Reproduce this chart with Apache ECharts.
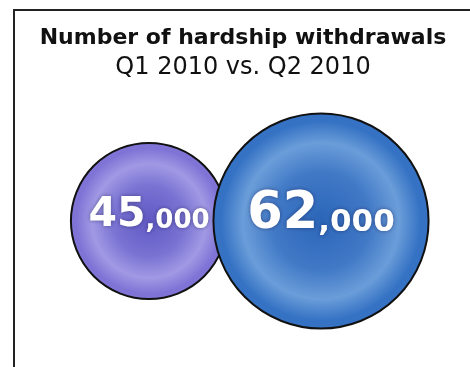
<!DOCTYPE html>
<html>
<head>
<meta charset="utf-8">
<style>
  html, body { margin: 0; padding: 0; background: #ffffff; }
  #chart { width: 470px; height: 367px; }
</style>
<script src="https://cdn.jsdelivr.net/npm/echarts@6/dist/echarts.min.js"></script>
</head>
<body>
<div id="chart"></div>
<script>
// Quarters compared and the withdrawal counts for each
const quarters = ['Q1 2010', 'Q2 2010'];
const withdrawals = [45000, 62000];
const titleLine = 'Number of hardship withdrawals';
const subtitleLine = 'Q1 2010 vs. Q2 2010';

// Bubble fills: darker centre, light ring, deeper rim
const fills = [
  ['#5f58c3', '#7a73d3', '#a199e4', '#7f74d6'],
  ['#2a65b8', '#4179c6', '#6a9dd9', '#3572c4']
];

// Diameter grows with the value
const pxPerUnit = 0.00347;

function radial(c) {
  return new echarts.graphic.RadialGradient(0.5, 0.5, 0.5, [
    { offset: 0, color: c[0] },
    { offset: 0.45, color: c[1] },
    { offset: 0.72, color: c[2] },
    { offset: 0.92, color: c[3] },
    { offset: 1, color: c[3] }
  ]);
}

function splitNumber(v) {
  const s = v.toLocaleString('en-US');
  const i = s.indexOf(',');
  return [s.slice(0, i), s.slice(i)];
}

const labelFont = 'DejaVu Sans, Verdana, sans-serif';
const chart = echarts.init(document.getElementById('chart'));

const points = quarters.map((q, i) => {
  const v = withdrawals[i];
  // label size grows gently with the bubble
  const big = Math.round(14.5 + v * 0.000588);
  const small = Math.round(12.8 + v * 0.000294);
  return {
    value: [q, 0.5, v],
    symbolSize: v * pxPerUnit,
    itemStyle: { color: radial(fills[i]) },
    label: {
      offset: [0, -6],
      rich: {
        a: { fontSize: big, fontWeight: 'bold', color: '#ffffff', fontFamily: labelFont,
             textShadowColor: 'rgba(20,20,70,0.5)', textShadowBlur: 4 },
        b: { fontSize: small, fontWeight: 'bold', color: '#ffffff', fontFamily: labelFont,
             textShadowColor: 'rgba(20,20,70,0.5)', textShadowBlur: 4, padding: [Math.round(big * 0.3), 0, 0, 0] }
      }
    }
  };
});

chart.setOption({
  animation: false,
  title: {
    text: titleLine,
    subtext: subtitleLine,
    left: 238,
    textAlign: 'center',
    top: 21,
    itemGap: 4,
    textStyle: { fontSize: 22, fontWeight: 'bold', color: '#111111', fontFamily: 'DejaVu Sans, sans-serif', lineHeight: 24 },
    subtextStyle: { fontSize: 24, fontWeight: 'normal', color: '#111111', fontFamily: 'DejaVu Sans, sans-serif', lineHeight: 28 }
  },
  graphic: [{
    type: 'rect',
    shape: { x: 14, y: 10, width: 470, height: 400 },
    style: { fill: 'none', stroke: '#222222', lineWidth: 2 },
    silent: true
  }],
  grid: { left: 63, right: 63, top: 121, bottom: 46 },
  xAxis: { type: 'category', data: quarters, show: false, boundaryGap: true },
  yAxis: { type: 'value', min: 0, max: 1, show: false },
  series: [{
    type: 'scatter',
    data: points,
    itemStyle: { borderColor: '#111111', borderWidth: 2, opacity: 1 },
    label: {
      show: true,
      position: 'inside',
      formatter: p => {
        const [h, t] = splitNumber(p.value[2]);
        return '{a|' + h + '}{b|' + t + '}';
      }
    }
  }]
});
</script>
</body>
</html>
